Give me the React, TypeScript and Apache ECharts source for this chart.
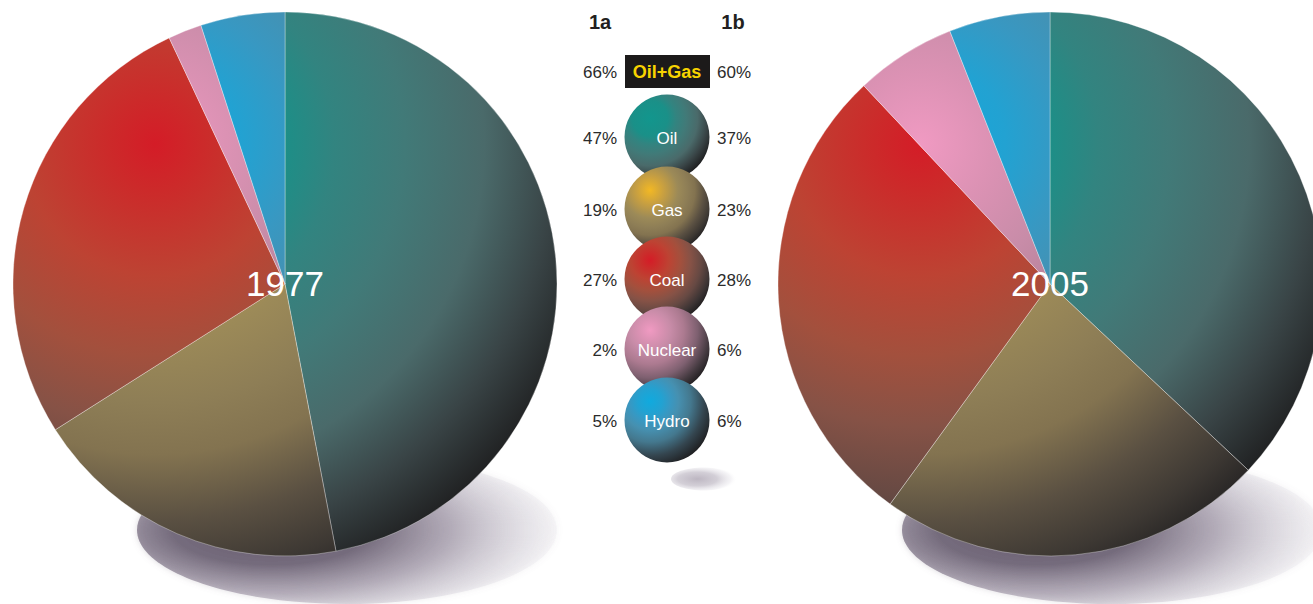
import React, { useEffect, useRef } from 'react';
import * as echarts from 'echarts';

// Primary energy mix, share of total (%)
const categories = ['Oil', 'Gas', 'Coal', 'Nuclear', 'Hydro'];
const years = ['1977', '2005'];
const columnHeads = ['1a', '1b'];
const share1977 = [47, 19, 27, 2, 5];
const share2005 = [37, 23, 28, 6, 6];
const combinedLabel = 'Oil+Gas';
const combinedParts = ['Oil', 'Gas'];

// Colour ramps per fuel: from the lit spot outwards to the shaded rim
const ramps: Record<string, [number, string][]> = {
  Oil: [[0, '#12968d'], [0.26, '#1a9088'], [0.38, '#328480'], [0.53, '#417a78'], [0.7, '#4a6a6a'], [0.85, '#394446'], [1, '#1e1e1f']],
  Gas: [[0, '#f2b824'], [0.2, '#c9a040'], [0.41, '#9c8a58'], [0.55, '#8e7e56'], [0.66, '#837350'], [0.8, '#5a5042'], [0.92, '#3d3833'], [1, '#262424']],
  Coal: [[0, '#d41c27'], [0.1, '#cc2a2a'], [0.28, '#bd4333'], [0.45, '#a3503d'], [0.6, '#865246'], [0.75, '#664943'], [0.9, '#3c3434'], [1, '#211f20']],
  Nuclear: [[0, '#f09ac2'], [0.15, '#dc92b4'], [0.3, '#c88ca8'], [0.5, '#ac7a90'], [0.7, '#7e6070'], [0.88, '#443a40'], [1, '#232022']],
  Hydro: [[0, '#10aade'], [0.18, '#22a2d2'], [0.3, '#3898c2'], [0.42, '#4690b0'], [0.6, '#44788e'], [0.8, '#34454f'], [1, '#1f1f21']],
};

const W = 1313;
const H = 604;
const R = 272;
const pieCenters: [number, number][] = [[285, 284], [1050, 284]];
const LIGHT_DX = -130;
const LIGHT_DY = -140;

const stopsOf = (name: string) => ramps[name].map(([offset, color]) => ({ offset, color }));

const sliceFill = (name: string, cx: number, cy: number) =>
  new echarts.graphic.RadialGradient(cx + LIGHT_DX, cy + LIGHT_DY, R * 1.73, stopsOf(name), true);

const ballFill = (name: string) => new echarts.graphic.RadialGradient(0.3, 0.28, 0.8, stopsOf(name));

const groundShadow = () =>
  new echarts.graphic.RadialGradient(0.32, 0.5, 0.78, [
    { offset: 0, color: 'rgba(100,90,108,0.96)' },
    { offset: 0.3, color: 'rgba(108,98,116,0.92)' },
    { offset: 0.55, color: 'rgba(150,140,158,0.62)' },
    { offset: 0.8, color: 'rgba(205,200,212,0.3)' },
    { offset: 1, color: 'rgba(255,255,255,0)' },
  ]);

const smallShadow = () =>
  new echarts.graphic.RadialGradient(0.4, 0.5, 0.6, [
    { offset: 0, color: 'rgba(185,178,190,0.95)' },
    { offset: 0.5, color: 'rgba(200,195,205,0.8)' },
    { offset: 0.85, color: 'rgba(230,228,234,0.4)' },
    { offset: 1, color: 'rgba(255,255,255,0)' },
  ]);

const pct = (v: number) => `${v}%`;

export default function App() {
  const ref = useRef<HTMLDivElement>(null);

  useEffect(() => {
    if (!ref.current) return;
    const chart = echarts.init(ref.current, undefined, { renderer: 'svg', width: W, height: H });
    const shares = [share1977, share2005];
    const font = '"Liberation Sans", Arial, Helvetica, sans-serif';

    const pieSeries = shares.map((vals, k) => {
      const [cx, cy] = pieCenters[k];
      return {
        type: 'pie',
        name: years[k],
        center: [cx, cy],
        radius: R,
        startAngle: 90,
        clockwise: true,
        silent: true,
        z: 2,
        label: { show: false },
        labelLine: { show: false },
        emphasis: { disabled: true },
        itemStyle: { borderColor: 'rgba(255,255,255,0.55)', borderWidth: 0.6 },
        data: categories.map((name, i) => ({
          name,
          value: vals[i],
          itemStyle: { color: sliceFill(name, cx, cy) },
        })),
      };
    });

    const graphics: any[] = [];

    // soft ground shadows under the two discs
    pieCenters.forEach(([cx, cy]) => {
      graphics.push({
        type: 'ellipse',
        z: 0,
        silent: true,
        shape: { cx: cx + 62, cy: cy + 246, rx: 210, ry: 74 },
        style: { fill: groundShadow(), shadowBlur: 6, shadowColor: 'rgba(120,110,128,0.35)' },
      });
    });

    // year captions in the middle of each disc
    pieCenters.forEach(([cx, cy], k) => {
      graphics.push({
        type: 'text',
        z: 10,
        silent: true,
        x: cx,
        y: cy - 1,
        style: {
          text: years[k],
          fill: '#ffffff',
          font: `35px ${font}`,
          align: 'center',
          verticalAlign: 'middle',
        },
      });
    });

    // key column
    const keyX = 667;
    const leftX = 617;
    const rightX = 717;
    const rowY = [137, 209, 279, 349, 420];
    const comboY = 71;

    columnHeads.forEach((t, k) => {
      graphics.push({
        type: 'text',
        z: 10,
        x: k === 0 ? 600 : 733,
        y: 22,
        style: { text: t, fill: '#231f20', font: `bold 20px ${font}`, align: 'center', verticalAlign: 'middle' },
      });
    });

    const comboIdx = combinedParts.map((p) => categories.indexOf(p));
    const comboTotals = shares.map((vals) => comboIdx.reduce((s, i) => s + vals[i], 0));

    graphics.push({
      type: 'rect',
      z: 10,
      shape: { x: 625, y: 55, width: 85, height: 33 },
      style: { fill: '#1c1a1a' },
    });
    graphics.push({
      type: 'text',
      z: 11,
      x: keyX,
      y: comboY + 1,
      style: { text: combinedLabel, fill: '#f7d300', font: `bold 18px ${font}`, align: 'center', verticalAlign: 'middle' },
    });
    graphics.push({
      type: 'text',
      z: 11,
      x: leftX,
      y: comboY + 1,
      style: { text: pct(comboTotals[0]), fill: '#2b2b2b', font: `17px ${font}`, align: 'right', verticalAlign: 'middle' },
    });
    graphics.push({
      type: 'text',
      z: 11,
      x: rightX,
      y: comboY + 1,
      style: { text: pct(comboTotals[1]), fill: '#2b2b2b', font: `17px ${font}`, align: 'left', verticalAlign: 'middle' },
    });

    // small shadow beneath the stack of balls
    graphics.push({
      type: 'ellipse',
      z: 9,
      silent: true,
      shape: { cx: 704, cy: 479, rx: 33, ry: 11.5 },
      style: { fill: smallShadow() },
    });

    categories.forEach((name, i) => {
      const y = rowY[i];
      graphics.push({
        type: 'circle',
        z: 10,
        shape: { cx: keyX, cy: y, r: 42.5 },
        style: { fill: ballFill(name) },
      });
      graphics.push({
        type: 'text',
        z: 10,
        x: keyX,
        y: y + 1,
        style: { text: name, fill: '#ffffff', font: `17px ${font}`, align: 'center', verticalAlign: 'middle' },
      });
      graphics.push({
        type: 'text',
        z: 10,
        x: leftX,
        y: y + 1,
        style: { text: pct(share1977[i]), fill: '#2b2b2b', font: `17px ${font}`, align: 'right', verticalAlign: 'middle' },
      });
      graphics.push({
        type: 'text',
        z: 10,
        x: rightX,
        y: y + 1,
        style: { text: pct(share2005[i]), fill: '#2b2b2b', font: `17px ${font}`, align: 'left', verticalAlign: 'middle' },
      });
    });

    chart.setOption({
      animation: false,
      backgroundColor: '#ffffff',
      series: pieSeries,
      graphic: { elements: graphics },
    });

    return () => chart.dispose();
  }, []);

  return (
    <div
      ref={ref}
      style={{ position: 'absolute', left: 0, top: 0, width: W, height: H, background: '#fff' }}
    />
  );
}
